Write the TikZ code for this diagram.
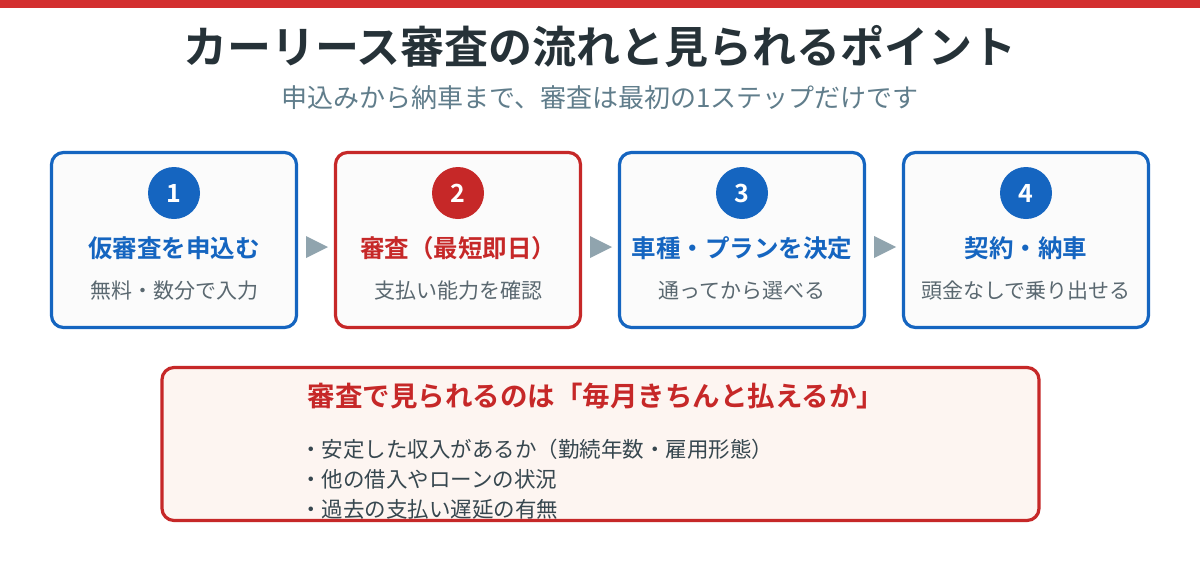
\documentclass[tikz,border=0pt]{standalone}
\usepackage{fontspec}
\setmainfont{Noto Sans CJK JP}[BoldFont={Noto Sans CJK JP Bold}]
\usetikzlibrary{calc}
\definecolor{topred}{HTML}{D32F2F}
\definecolor{stepblue}{HTML}{1565C0}
\definecolor{stepred}{HTML}{C62828}
\definecolor{arrowgray}{HTML}{90A4AE}
\definecolor{titlec}{HTML}{263238}
\definecolor{subc}{HTML}{607D8B}
\definecolor{smallc}{HTML}{5A6870}
\definecolor{bulletc}{HTML}{37474F}
\definecolor{boxfill}{HTML}{FBFBFB}
\definecolor{pinkfill}{HTML}{FDF5F1}
\begin{document}
\begin{tikzpicture}[x=1pt,y=-1pt,
  stepbox/.style={draw=#1, line width=3.2pt, rounded corners=12pt, fill=boxfill,
    minimum width=245pt, minimum height=175pt, inner sep=0pt, outer sep=0pt},
  numcirc/.style={circle, fill=#1, minimum size=52pt, inner sep=0pt,
    text=white, font=\fontsize{25}{25}\selectfont\bfseries},
  steptitle/.style={text=#1, font=\fontsize{24.5}{24.5}\selectfont\bfseries, inner sep=0pt},
  stepsub/.style={text=smallc, font=\fontsize{21}{21}\selectfont, inner sep=0pt},
  flowarrow/.style={fill=arrowgray},
  bullet/.style={anchor=west, text=bulletc, font=\fontsize{21.5}{21.5}\selectfont, inner sep=0pt}
]
\useasboundingbox (0,0) rectangle (1200,560);
\fill[white] (0,0) rectangle (1200,560);
\fill[topred] (0,0) rectangle (1200,8);

\node[text=titlec, font=\fontsize{44}{44}\selectfont\bfseries, inner sep=0pt] (title) at (600,47)
  {カーリース審査の流れと見られるポイント};
\node[text=subc, font=\fontsize{26}{26}\selectfont, inner sep=0pt] (subtitle) at (600,98)
  {申込みから納車まで、審査は最初の1ステップだけです};

% step boxes
\node[stepbox=stepblue] (b1) at (174,240) {};
\node[stepbox=stepred]  (b2) at (458,240) {};
\node[stepbox=stepblue] (b3) at (742,240) {};
\node[stepbox=stepblue] (b4) at (1026,240) {};

\node[numcirc=stepblue] (n1) at (174,193) {1};
\node[numcirc=stepred]  (n2) at (458,193) {2};
\node[numcirc=stepblue] (n3) at (742,193) {3};
\node[numcirc=stepblue] (n4) at (1026,193) {4};

\node[steptitle=stepblue] (t1) at (174,248) {仮審査を申込む};
\node[steptitle=stepred]  (t2) at (458,248) {審査（最短即日）};
\node[steptitle=stepblue] (t3) at (742,248) {車種・プランを決定};
\node[steptitle=stepblue] (t4) at (1026,248) {契約・納車};

\node[stepsub] (s1) at (174,291) {無料・数分で入力};
\node[stepsub] (s2) at (458,291) {支払い能力を確認};
\node[stepsub] (s3) at (742,291) {通ってから選べる};
\node[stepsub] (s4) at (1026,291) {頭金なしで乗り出せる};

% arrows between boxes
\foreach \a/\b in {b1/b2,b2/b3,b3/b4}{
  \fill[flowarrow] ($(\a.east)+(9.5,-4)$) -- ($(\a.east)+(31.5,7)$) -- ($(\a.east)+(9.5,18)$) -- cycle;
}

% bottom panel
\node[fill=pinkfill, rounded corners=12pt, minimum width=877pt, minimum height=153pt,
  inner sep=0pt, outer sep=0pt] (panel) at (600.5,444) {};
\node[text=stepred, font=\fontsize{27.5}{27.5}\selectfont\bfseries, inner sep=0pt] (ptitle) at (596,396)
  {審査で見られるのは「毎月きちんと払えるか」};
\node[bullet] (l1) at (300,449) {・安定した収入があるか（勤続年数・雇用形態）};
\node[bullet] (l2) at (300,479) {・他の借入やローンの状況};
\node[bullet] (l3) at (300,509) {・過去の支払い遅延の有無};
\draw[stepred, line width=3.2pt, rounded corners=12pt] (panel.south west) rectangle (panel.north east);
\end{tikzpicture}
\end{document}
